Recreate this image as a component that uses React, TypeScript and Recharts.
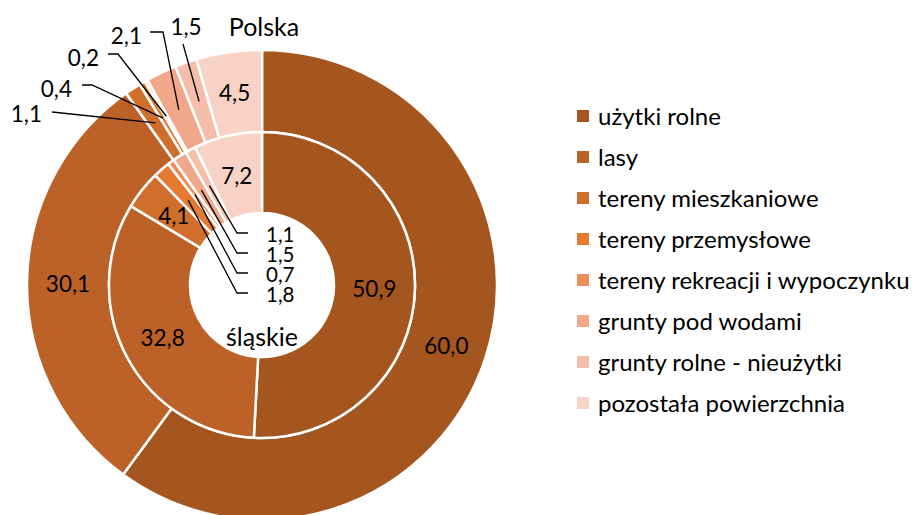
import React from 'react'
import { Cell, Legend, Pie, PieChart } from 'recharts'

const categories = [
  'użytki rolne',
  'lasy',
  'tereny mieszkaniowe',
  'tereny przemysłowe',
  'tereny rekreacji i wypoczynku',
  'grunty pod wodami',
  'grunty rolne - nieużytki',
  'pozostała powierzchnia'
]
const polskaValues = [60.0, 30.1, 1.1, 0.4, 0.2, 2.1, 1.5, 4.5]
const slaskieValues = [50.9, 32.8, 4.1, 1.8, 0.7, 1.5, 1.1, 7.2]
const colors = ['#A5561F', '#BC6228', '#D06E2C', '#E57A31', '#EE8D5A', '#F0A78A', '#F4BEAA', '#F7D2C5']

const polskaData = categories.map((name, i) => ({ name, value: polskaValues[i] }))
const slaskieData = categories.map((name, i) => ({ name, value: slaskieValues[i] }))

const FONT = 'Lato, "Noto Sans", sans-serif'
const LABEL_SIZE = 22.5
const RADIAN = Math.PI / 180

// leader label layout, offsets from the pie centre
interface Leader {
  tx: number
  ty: number
  anchor: 'start' | 'middle' | 'end'
  path: number[][]
  size?: number
}

const outerLeaders: Record<number, Leader> = {
  2: { tx: -220, ty: -172, anchor: 'end', path: [[-210, -173]] },
  3: { tx: -190, ty: -197, anchor: 'end', path: [[-180, -200], [-170, -200]] },
  4: { tx: -163, ty: -228, anchor: 'end', path: [[-154, -231], [-144, -231]] },
  5: { tx: -120, ty: -250, anchor: 'end', path: [[-112, -253], [-99, -253]] },
  6: { tx: -76, ty: -259, anchor: 'middle', path: [[-79, -241]] }
}

const innerLeaders: Record<number, Leader> = {
  3: { tx: 4, ty: 9, anchor: 'start', path: [[-14, 8], [-25, 8]], size: 20.5 },
  4: { tx: 4, ty: -11, anchor: 'start', path: [[-14, -12], [-25, -12]], size: 20.5 },
  5: { tx: 4, ty: -31, anchor: 'start', path: [[-14, -32], [-25, -32]], size: 20.5 },
  6: { tx: 4, ty: -51, anchor: 'start', path: [[-14, -52], [-25, -52]], size: 20.5 }
}

const fmt = (v: number): string => v.toFixed(1).replace('.', ',')

const makeLabel = (leaders: Record<number, Leader>) => (props: any) => {
  const { cx, cy, midAngle, innerRadius, outerRadius, value, index } = props
  const r = (innerRadius + outerRadius) / 2
  const px = cx + r * Math.cos(-midAngle * RADIAN)
  const py = cy + r * Math.sin(-midAngle * RADIAN)
  const leader = leaders[index]
  if (!leader) {
    return (
      <text x={px} y={py} fill="#000" fontFamily={FONT} fontSize={LABEL_SIZE} textAnchor="middle" dominantBaseline="central">
        {fmt(value)}
      </text>
    )
  }
  const pts = leader.path.map(([x, y]) => `${cx + x},${cy + y}`).concat(`${px},${py}`)
  return (
    <g>
      <polyline points={pts.join(' ')} fill="none" stroke="#000" strokeWidth={1.3} />
      <text
        x={cx + leader.tx}
        y={cy + leader.ty}
        fill="#000"
        fontFamily={FONT}
        fontSize={leader.size ?? LABEL_SIZE}
        textAnchor={leader.anchor}
        dominantBaseline="central"
      >
        {fmt(value)}
      </text>
    </g>
  )
}

const renderLegend = (): JSX.Element => (
  <div style={{ fontFamily: FONT, fontSize: 24, color: '#000' }}>
    {categories.map((name, i) => (
      <div key={name} style={{ display: 'flex', alignItems: 'center', height: 41, whiteSpace: 'nowrap' }}>
        <span style={{ width: 12, height: 12, background: colors[i], marginRight: 9, display: 'inline-block' }} />
        <span>{name}</span>
      </div>
    ))}
  </div>
)

export default function App(): JSX.Element {
  const cx = 262
  const cy = 285
  return (
    <div style={{ position: 'absolute', left: 0, top: 0, width: 920, height: 515, background: '#fff' }}>
      <PieChart width={920} height={515} margin={{ top: 0, right: 0, bottom: 0, left: 0 }}>
        <Pie
          data={polskaData}
          dataKey="value"
          cx={cx}
          cy={cy}
          innerRadius={153}
          outerRadius={235}
          startAngle={90}
          endAngle={-270}
          stroke="#fff"
          strokeWidth={2.5}
          label={makeLabel(outerLeaders)}
          labelLine={false}
          isAnimationActive={false}
        >
          {polskaData.map((d, i) => (
            <Cell key={d.name} fill={colors[i]} />
          ))}
        </Pie>
        <Pie
          data={slaskieData}
          dataKey="value"
          cx={cx}
          cy={cy}
          innerRadius={72}
          outerRadius={153}
          startAngle={90}
          endAngle={-270}
          stroke="#fff"
          strokeWidth={2.5}
          label={makeLabel(innerLeaders)}
          labelLine={false}
          isAnimationActive={false}
        >
          {slaskieData.map((d, i) => (
            <Cell key={d.name} fill={colors[i]} />
          ))}
        </Pie>
        <text x={264} y={26} fontFamily={FONT} fontSize={25} textAnchor="middle" dominantBaseline="central" fill="#000">
          Polska
        </text>
        <text x={262} y={336} fontFamily={FONT} fontSize={25} textAnchor="middle" dominantBaseline="central" fill="#000">
          śląskie
        </text>
        <Legend
          content={renderLegend}
          wrapperStyle={{ position: 'absolute', left: 577, top: 95, width: 343 }}
        />
      </PieChart>
    </div>
  )
}
